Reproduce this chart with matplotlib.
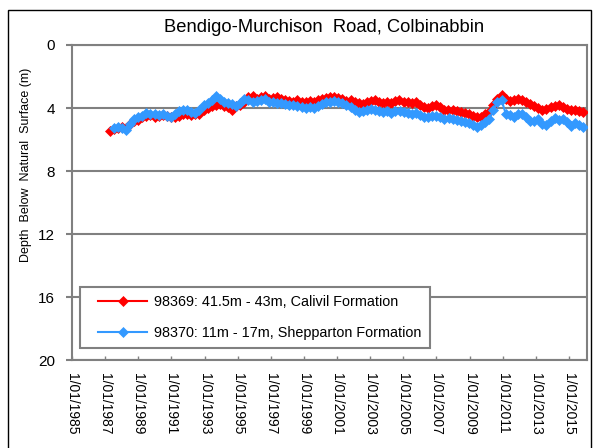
import matplotlib
matplotlib.use("Agg")
import numpy as np
import pandas as pd
import matplotlib.pyplot as plt
from matplotlib.patches import Rectangle

plt.rcParams["font.family"] = ["Liberation Sans", "DejaVu Sans"]

title = "Bendigo-Murchison  Road, Colbinabbin"
y_label = "Depth  Below  Natural  Surface (m)"
red_label = "98369: 41.5m - 43m, Calivil Formation"
blue_label = "98370: 11m - 17m, Shepparton Formation"

# bore 98369 (Calivil), roughly quarterly readings
red_start, red_end = "1987-04-10", "2015-11-10"
red_depth = [
    5.45, 5.35, 5.3, 5.2, 5.25, 5.0, 4.8, 4.75, 4.6, 4.5, 4.45, 4.55,
    4.5, 4.45, 4.5, 4.6, 4.55, 4.5, 4.4, 4.4, 4.45, 4.4, 4.35, 4.15,
    4.0, 3.9, 3.8, 3.75, 3.85, 3.95, 4.1, 3.9, 3.8, 3.6, 3.3, 3.25,
    3.4, 3.3, 3.25, 3.4, 3.35, 3.3, 3.45, 3.5, 3.55, 3.6, 3.5, 3.6,
    3.65, 3.55, 3.6, 3.5, 3.45, 3.35, 3.3, 3.3, 3.35, 3.4, 3.55, 3.5,
    3.6, 3.7, 3.75, 3.6, 3.55, 3.5, 3.6, 3.7, 3.65, 3.7, 3.55, 3.5,
    3.6, 3.65, 3.7, 3.65, 3.8, 3.95, 4.0, 3.85, 3.8, 3.95, 4.1, 4.1,
    4.15, 4.2, 4.25, 4.3, 4.35, 4.5, 4.6, 4.55, 4.4, 4.25, 3.8, 3.4,
    3.2, 3.45, 3.55, 3.5, 3.45, 3.5, 3.6, 3.75, 3.9, 4.0, 4.1, 4.05,
    3.95, 3.9, 3.8, 3.95, 4.05, 4.1, 4.15, 4.2, 4.25,
]

# bore 98370 (Shepparton), roughly quarterly readings
blue_start, blue_end = "1987-07-10", "2015-11-10"
blue_depth = [
    5.3, 5.2, 5.25, 5.4, 5.0, 4.7, 4.6, 4.5, 4.3, 4.35, 4.4, 4.45,
    4.4, 4.5, 4.55, 4.4, 4.2, 4.1, 4.15, 4.25, 4.3, 4.1, 3.8, 3.7,
    3.5, 3.25, 3.4, 3.65, 3.7, 3.75, 3.9, 3.7, 3.45, 3.5, 3.6, 3.55,
    3.5, 3.45, 3.6, 3.65, 3.7, 3.7, 3.75, 3.8, 3.8, 3.85, 3.95, 4.0,
    3.95, 4.0, 3.9, 3.75, 3.6, 3.6, 3.55, 3.65, 3.7, 3.8, 3.95, 4.1,
    4.25, 4.2, 4.1, 4.05, 4.1, 4.2, 4.25, 4.2, 4.3, 4.2, 4.2, 4.25,
    4.3, 4.35, 4.3, 4.45, 4.6, 4.6, 4.5, 4.5, 4.6, 4.7, 4.65, 4.7,
    4.75, 4.85, 4.9, 4.95, 5.1, 5.2, 5.1, 4.9, 4.7, 4.1, 3.6, 3.5,
    4.35, 4.45, 4.55, 4.4, 4.35, 4.6, 4.8, 4.85, 4.7, 5.0, 5.05, 4.8,
    4.65, 4.75, 4.7, 4.9, 5.15, 4.95, 5.1, 5.2,
]

tick_years = list(range(1985, 2016, 2))
depth_ticks = [0, 4, 8, 12, 16, 20]

red_dates = pd.date_range(red_start, red_end, periods=len(red_depth))
blue_dates = pd.date_range(blue_start, blue_end, periods=len(blue_depth))
tick_dates = [pd.Timestamp(f"{y}-01-01") for y in tick_years]
tick_labels = [f"1/01/{y}" for y in tick_years]

W, H = 593, 448
fig = plt.figure(figsize=(W / 100, H / 100), dpi=100)
fig.patches.append(Rectangle((8 / W, -0.05), 583 / W, 1.05 - 10 / H,
                             transform=fig.transFigure, fill=False,
                             edgecolor="black", linewidth=1.0))

ax = fig.add_axes([72 / W, 1 - 360 / H, 515 / W, 315 / H])
grey = "#808080"

ax.plot(red_dates, red_depth, color="#FF0000", lw=1.5, marker="D",
        ms=5.5, mec="#FF0000", mew=0.5, label=red_label, zorder=3)
ax.plot(blue_dates, blue_depth, color="#3399FF", lw=1.5, marker="D",
        ms=5.5, mec="#3399FF", mew=0.5, label=blue_label, zorder=4)

ax.set_ylim(20, 0)
ax.set_yticks(depth_ticks)
ax.set_xlim(pd.Timestamp("1985-01-01"), pd.Timestamp("2016-02-01"))
ax.set_xticks(tick_dates)
ax.set_xticklabels(tick_labels, rotation=270, fontsize=10)
ax.tick_params(axis="x", direction="in", length=3, width=1, color=grey, pad=9)
ax.tick_params(axis="y", direction="out", length=4, width=1.5, color=grey,
               pad=8, labelsize=11)
for lbl in ax.get_xticklabels():
    lbl.set_va("top")
    lbl.set_ha("center")

ax.grid(axis="y", color=grey, lw=1.5)
for s in ax.spines.values():
    s.set_color(grey)
    s.set_linewidth(1.5)

# legend box drawn separately so the inner padding can match
box = Rectangle((8 / 515, 12 / 315), 350 / 515, 61 / 315,
                transform=ax.transAxes, facecolor="white", edgecolor=grey,
                linewidth=1.5, zorder=5)
ax.add_patch(box)
leg = ax.legend(loc="lower left", bbox_to_anchor=(26 / 515, 20 / 315),
                borderaxespad=0, borderpad=0, fontsize=10.4, frameon=False,
                handlelength=3.4, handletextpad=0.45, labelspacing=1.15,
                markerscale=0.85)
leg.set_zorder(6)

fig.text(324 / W, 1 - 27 / H, title, ha="center", va="center", fontsize=13.2)
fig.text(26 / W, 1 - 165 / H, y_label, ha="center", va="center",
         rotation=90, fontsize=9)

fig.savefig("out.png", dpi=100)
